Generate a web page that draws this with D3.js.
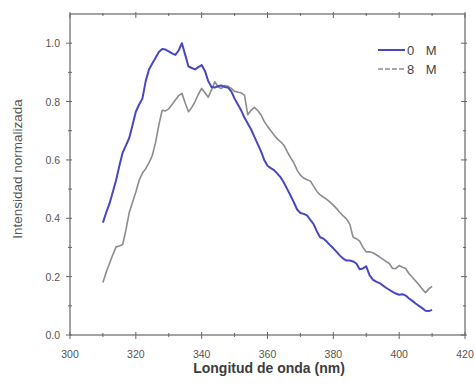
<!DOCTYPE html>
<html>
<head>
<meta charset="utf-8">
<script src="https://cdn.jsdelivr.net/npm/d3@7"></script>
<style>
  html, body { margin: 0; padding: 0; background: #fff; }
  svg { display: block; }
</style>
</head>
<body>
<svg id="chart" width="475" height="385"></svg>
<script>
// Wavelengths (nm), 1 nm step
const wavelengths = d3.range(310, 411, 1);

// Normalised emission intensity, 0 M denaturant
const intensity0M = [
  0.385, 0.42, 0.45, 0.49, 0.53, 0.58, 0.625, 0.65, 0.675, 0.72,
  0.765, 0.79, 0.81, 0.87, 0.91, 0.93, 0.95, 0.97, 0.98, 0.978,
  0.972, 0.965, 0.96, 0.975, 1.0, 0.96, 0.92, 0.915, 0.91, 0.918,
  0.925, 0.905, 0.87, 0.85, 0.848, 0.853, 0.855, 0.85, 0.848, 0.835,
  0.81, 0.79, 0.77, 0.745, 0.725, 0.705, 0.68, 0.655, 0.63, 0.6,
  0.58, 0.572, 0.565, 0.553, 0.54, 0.522, 0.5, 0.478, 0.455, 0.43,
  0.418, 0.415, 0.41, 0.395, 0.38, 0.355, 0.335, 0.33, 0.32, 0.308,
  0.297, 0.285, 0.272, 0.262, 0.255, 0.255, 0.252, 0.245, 0.225, 0.228,
  0.235, 0.205, 0.19, 0.183, 0.178, 0.17, 0.162, 0.155, 0.148, 0.142,
  0.138, 0.14, 0.135, 0.125, 0.117, 0.108, 0.1, 0.092, 0.083, 0.082,
  0.086
];

// Normalised emission intensity, 8 M denaturant
const intensity8M = [
  0.18, 0.215, 0.245, 0.275, 0.302, 0.305, 0.31, 0.36, 0.42, 0.455,
  0.49, 0.53, 0.555, 0.57, 0.59, 0.615, 0.66, 0.72, 0.77, 0.768,
  0.775, 0.79, 0.805, 0.82, 0.828, 0.795, 0.765, 0.78, 0.8, 0.825,
  0.845, 0.83, 0.815, 0.84, 0.868, 0.85, 0.845, 0.855, 0.852, 0.845,
  0.835, 0.832, 0.83, 0.822, 0.755, 0.77, 0.78, 0.77, 0.755, 0.732,
  0.715, 0.7, 0.685, 0.672, 0.662, 0.65, 0.628, 0.608, 0.59, 0.565,
  0.548, 0.538, 0.532, 0.528, 0.51, 0.492, 0.48, 0.472, 0.465, 0.455,
  0.445, 0.433, 0.42, 0.408, 0.398, 0.38, 0.335, 0.33, 0.322, 0.3,
  0.285, 0.285, 0.282, 0.275, 0.268, 0.26, 0.252, 0.245, 0.228, 0.228,
  0.238, 0.232, 0.228, 0.21, 0.198, 0.185, 0.172, 0.158, 0.145, 0.158,
  0.167
];

const seriesNames = ["0 M", "8 M"];
const xTickValues = [300, 320, 340, 360, 380, 400, 420];
const xMinorTicks = [310, 330, 350, 370, 390, 410];
const yTickValues = [0.0, 0.2, 0.4, 0.6, 0.8, 1.0];
const yMinorTicks = [0.1, 0.3, 0.5, 0.7, 0.9];

const svg = d3.select("#chart");
const plotLeft = 70, plotRight = 465, plotTop = 14, plotBottom = 335;

const x = d3.scaleLinear().domain([300, 420]).range([plotLeft, plotRight]);
const y = d3.scaleLinear().domain([0, 1.1]).range([plotBottom, plotTop]);

const axisColor = "#666";
const textColor = "#555";
const font = "Arial, 'Liberation Sans', sans-serif";
const blueColor = "#4747c2";
const grayColor = "#8c8c8c";

// Frame
svg.append("rect")
  .attr("x", plotLeft).attr("y", plotTop)
  .attr("width", plotRight - plotLeft).attr("height", plotBottom - plotTop)
  .attr("fill", "none").attr("stroke", axisColor).attr("stroke-width", 1.2);

const ticks = svg.append("g").attr("stroke", axisColor).attr("stroke-width", 1);

// Bottom ticks (crossing the axis)
xTickValues.forEach(v => ticks.append("line")
  .attr("x1", x(v)).attr("x2", x(v)).attr("y1", plotBottom - 3).attr("y2", plotBottom + 4));
xMinorTicks.forEach(v => ticks.append("line")
  .attr("x1", x(v)).attr("x2", x(v)).attr("y1", plotBottom - 2).attr("y2", plotBottom + 2));
// Top ticks
xTickValues.forEach(v => ticks.append("line")
  .attr("x1", x(v)).attr("x2", x(v)).attr("y1", plotTop - 2).attr("y2", plotTop + 4));
xMinorTicks.forEach(v => ticks.append("line")
  .attr("x1", x(v)).attr("x2", x(v)).attr("y1", plotTop - 1).attr("y2", plotTop + 2));
// Left ticks
yTickValues.forEach(v => ticks.append("line")
  .attr("x1", plotLeft - 4).attr("x2", plotLeft + 2).attr("y1", y(v)).attr("y2", y(v)));
yMinorTicks.forEach(v => ticks.append("line")
  .attr("x1", plotLeft - 2).attr("x2", plotLeft + 2).attr("y1", y(v)).attr("y2", y(v)));
// Right ticks
yTickValues.forEach(v => ticks.append("line")
  .attr("x1", plotRight - 4).attr("x2", plotRight + 2).attr("y1", y(v)).attr("y2", y(v)));
yMinorTicks.forEach(v => ticks.append("line")
  .attr("x1", plotRight - 2).attr("x2", plotRight + 1).attr("y1", y(v)).attr("y2", y(v)));

// Tick labels
svg.append("g").selectAll("text").data(xTickValues).join("text")
  .attr("x", d => x(d)).attr("y", 358)
  .attr("text-anchor", "middle")
  .attr("font-family", font).attr("font-size", 10.5).attr("fill", textColor)
  .text(d => d3.format("d")(d));

svg.append("g").selectAll("text").data(yTickValues).join("text")
  .attr("x", plotLeft - 10).attr("y", d => y(d) + 4)
  .attr("text-anchor", "end")
  .attr("font-family", font).attr("font-size", 10.5).attr("fill", textColor)
  .text(d => d3.format(".1f")(d));

// Axis titles
svg.append("text")
  .attr("x", 269).attr("y", 373)
  .attr("text-anchor", "middle")
  .attr("font-family", font).attr("font-size", 14).attr("font-weight", "bold")
  .attr("fill", "#3c3c3c")
  .text("Longitud de onda (nm)");

svg.append("text")
  .attr("transform", "translate(22, 169) rotate(-90)")
  .attr("text-anchor", "middle")
  .attr("font-family", font).attr("font-size", 13.5)
  .attr("fill", textColor)
  .text("Intensidad normalizada");

// Curves
const line = d3.line()
  .x((d, i) => x(wavelengths[i]))
  .y(d => y(d));

svg.append("path")
  .datum(intensity8M)
  .attr("fill", "none").attr("stroke", grayColor).attr("stroke-width", 1.6)
  .attr("stroke-linejoin", "round")
  .attr("d", line);

svg.append("path")
  .datum(intensity0M)
  .attr("fill", "none").attr("stroke", blueColor).attr("stroke-width", 2)
  .attr("stroke-linejoin", "round")
  .attr("d", line);

// Legend
const legend = svg.append("g");
legend.append("line")
  .attr("x1", 378).attr("x2", 405).attr("y1", 50).attr("y2", 50)
  .attr("stroke", blueColor).attr("stroke-width", 2);
legend.append("line")
  .attr("x1", 378).attr("x2", 405).attr("y1", 69).attr("y2", 69)
  .attr("stroke", grayColor).attr("stroke-width", 1.6)
  .attr("stroke-dasharray", "5,2");
legend.selectAll("text").data(seriesNames).join("text")
  .attr("x", 407).attr("y", (d, i) => 54.5 + i * 19)
  .attr("font-family", font).attr("font-size", 13).attr("fill", "#444")
  .style("word-spacing", "8px")
  .text(d => d);
</script>
</body>
</html>
